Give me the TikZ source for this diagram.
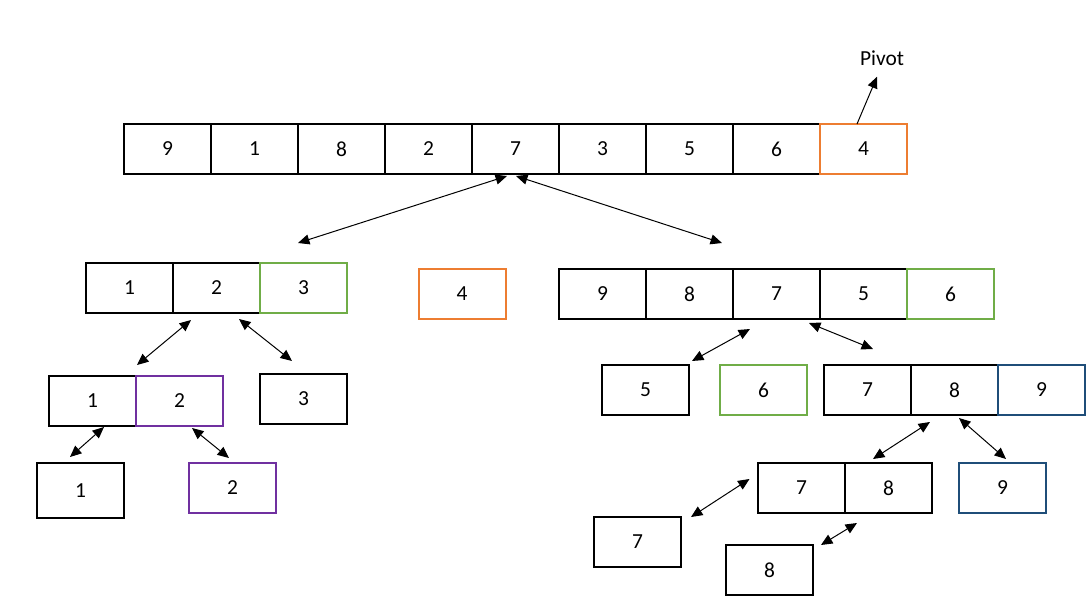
\documentclass[tikz,border=0pt]{standalone}
\usepackage{fontspec}
\setmainfont{Carlito}
\usetikzlibrary{arrows.meta,calc}
\definecolor{pivotorange}{HTML}{ED7D31}
\definecolor{donegreen}{HTML}{70AD47}
\definecolor{mergepurple}{HTML}{7030A0}
\definecolor{deepblue}{HTML}{1F4E79}
\begin{document}
\begin{tikzpicture}[x=0.7pt, y=-0.7pt,
    cell/.style={draw, line width=1.4pt, minimum width=60.9pt, minimum height=35pt,
      inner sep=0pt, outer sep=0pt, font=\fontsize{15}{18}\selectfont},
    link/.style={line width=0.7pt, {Triangle[length=8pt,width=7pt]}-{Triangle[length=8pt,width=7pt]}}]
    \useasboundingbox (0,0) rectangle (1086,600);
    % input array, last element is the pivot
    \foreach \v [count=\i] in {9,1,8,2,7,3,5,6}
      \node[cell] (t\i) at ({80.5+87*\i},149) {\v};
    \node[cell, pivotorange] (t9) at (863.5,149) {\textcolor{black}{4}};
    \node[inner sep=0pt, font=\fontsize{15}{18}\selectfont] (pv) at (882,58) {Pivot};
    \draw[line width=0.7pt, -{Triangle[length=8pt,width=7pt]}]
      ($(t9.north)+(-6.5,0)$) -- ($(pv.south)+(-5,11)$);
    % first partition
    \node[cell] (L1) at (129.5,287.5) {1};
    \node[cell] (L2) at (216.5,287.5) {2};
    \node[cell, donegreen] (L3) at (303.5,287.5) {\textcolor{black}{3}};
    \node[cell, pivotorange] (mid) at (462,294) {\textcolor{black}{4}};
    \foreach \v [count=\i] in {9,8,7,5}
      \node[cell] (R\i) at ({515.5+87*\i},294) {\v};
    \node[cell, donegreen] (R5) at (950.5,294) {\textcolor{black}{6}};
    \draw[link] ($(t5.south)+(-8.5,2)$) -- ($(L2.north)+(81.5,-19.5)$);
    \draw[link] ($(t5.south)+(0.5,2)$) -- ($(R3.north)+(-54.5,-26)$);
    % left side
    \node[cell] (M1) at (92.5,401) {1};
    \node[cell, mergepurple] (M2) at (179.5,401) {\textcolor{black}{2}};
    \node[cell] (N3) at (303.5,399) {3};
    \node[cell, minimum height=38.5pt] (P1) at (80.5,490.5) {1};
    \node[cell, mergepurple] (P2) at (232.5,488) {\textcolor{black}{2}};
    \draw[link] ($(L2.south)+(-25.5,7.5)$) -- ($(M1.north east)+(1,-11)$);
    \draw[link] ($(L2.south)+(22.5,6.5)$) -- ($(N3.north)+(-11.5,-13)$);
    \draw[link] ($(M1.south)+(11.5,1)$) -- ($(P1.north)+(-10.5,-6)$);
    \draw[link] ($(M2.south)+(12.5,2)$) -- ($(P2.north)+(-3.5,-5)$);
    % right side
    \node[cell] (Q5) at (645.5,390) {5};
    \node[cell, donegreen] (Q6) at (763.5,390) {\textcolor{black}{6}};
    \node[cell] (S7) at (867.5,390) {7};
    \node[cell] (S8) at (954.5,390) {8};
    \node[cell, deepblue] (S9) at (1041.5,390) {\textcolor{black}{9}};
    \draw[link] ($(R3.south)+(-26.5,10)$) -- ($(Q5.north)+(46.5,-4)$);
    \draw[link] ($(R3.south)+(32.5,4)$) -- ($(S7.north)+(5.5,-16)$);
    \node[cell] (U7) at (801.5,488) {7};
    \node[cell] (U8) at (888.5,488) {8};
    \node[cell, deepblue] (U9) at (1002.5,488) {\textcolor{black}{9}};
    \draw[link] ($(S8.south)+(-24.5,7)$) -- ($(U8.north)+(-15.5,-4)$);
    \draw[link] ($(S8.south)+(4.5,3)$) -- ($(U9.north)+(3.5,-4)$);
    \node[cell] (V7) at (637.5,542) {7};
    \node[cell] (V8) at (769.5,570) {8};
    \draw[link] ($(U7.west)+(-8.5,-9)$) -- ($(V7.north east)+(10,0)$);
    \draw[link] ($(U8.south)+(-31.5,10)$) -- ($(V8.north east)+(8,0)$);
\end{tikzpicture}
\end{document}
